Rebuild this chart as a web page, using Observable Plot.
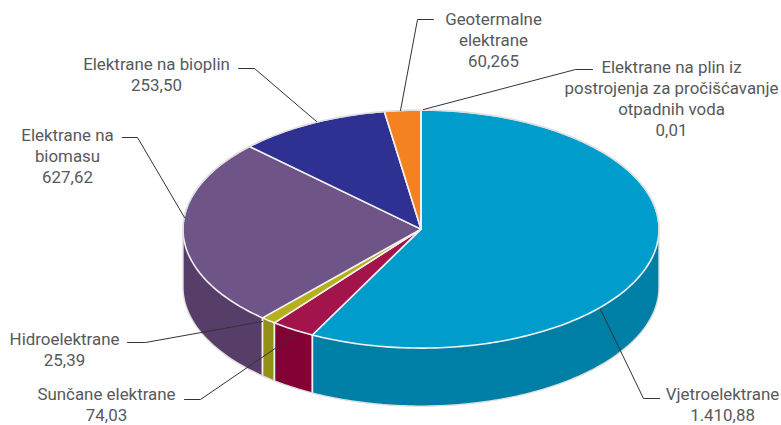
<!DOCTYPE html>
<html>
<head>
<meta charset="utf-8">
<script src="https://cdn.jsdelivr.net/npm/d3@7"></script>
<script src="https://cdn.jsdelivr.net/npm/@observablehq/plot@0.6"></script>
<style>
  html, body { margin: 0; padding: 0; background: #fff; }
  svg { display: block; }
</style>
</head>
<body>
<div id="chart"></div>
<script>
// Power plant categories, in clockwise order from twelve o'clock
const categories = [
  "Vjetroelektrane", "Sunčane elektrane", "Hidroelektrane", "Elektrane na biomasu",
  "Elektrane na bioplin", "Geotermalne elektrane", "Elektrane na plin iz postrojenja za pročišćavanje otpadnih voda"
];
const values = [1410.88, 74.03, 25.39, 627.62, 253.5, 60.265, 0.01];
const valueLabels = ["1.410,88", "74,03", "25,39", "627,62", "253,50", "60,265", "0,01"];
const nameLines = [
  "Vjetroelektrane", "Sunčane elektrane", "Hidroelektrane", "Elektrane na\nbiomasu",
  "Elektrane na bioplin", "Geotermalne\nelektrane", "Elektrane na plin iz\npostrojenja za pročišćavanje\notpadnih voda"
];
const topColors = ["#009dcc", "#a3134c", "#b5b01b", "#6f5587", "#2e3092", "#f58220", "#009dcc"];
const wallColors = ["#007fa6", "#830034", "#948f17", "#563e69", "#232570", "#c4681a", "#007fa6"];

// Pie geometry on the page
const cx = 420.5, cy = 228.6, rx = 238, ry = 119, depth = 58;

// Label placement: text anchor and the three-point leader running to the slice
const labelX = [722, 106, 64, 67, 156, 493, 671];
const labelY = [385, 385, 330, 126, 55, 10, 58];
const leaders = [
  [[659, 398], [643, 398], [600, 309]],
  [[184, 399], [200, 399], [298, 332]],
  [[127, 342], [145, 342], [262, 321]],
  [[122, 137], [137, 137], [184, 217]],
  [[238, 68], [254, 68], [316, 121]],
  [[433, 19], [417, 19], [400, 110]],
  [[592, 69], [575, 69], [423, 109]]
];

const rad = (deg) => (deg * Math.PI) / 180;
const px = (t) => cx + rx * Math.sin(rad(t));
const py = (t, drop = 0) => cy - ry * Math.cos(rad(t)) + drop;
const arc = (t0, t1, drop = 0) => {
  const n = Math.max(2, Math.ceil(Math.abs(t1 - t0)) + 1);
  return d3.range(n).map((i) => {
    const t = t0 + ((t1 - t0) * i) / (n - 1);
    return [px(t), py(t, drop)];
  });
};

// Cumulative start and end angle of each slice, from the values themselves
const total = d3.sum(values);
let running = 0;
const slices = values.map((v, i) => {
  const t0 = (running / total) * 360;
  running += v;
  return {i, t0, t1: (running / total) * 360};
});

// Upper face of each slice
const topRows = slices.flatMap(({i, t0, t1}) => {
  const ring = [[cx, cy], ...arc(t0, t1), [cx, cy]];
  return ring.map(([x, y]) => ({x, y, key: categories[i], fill: topColors[i]}));
});

// Front wall: only the part of a slice facing the viewer, between 90° and 270°
const wallRows = slices.flatMap(({i, t0, t1}) => {
  const a = Math.max(t0, 90), b = Math.min(t1, 270);
  if (a >= b) return [];
  const ring = [...arc(a, b), ...arc(b, a, depth)];
  ring.push(ring[0]);
  return ring.map(([x, y]) => ({x, y, key: categories[i], fill: wallColors[i]}));
});

// White seams between neighbouring walls
const seams = slices
  .map((s) => s.t1)
  .filter((t) => t > 90 && t < 270)
  .map((t) => ({x1: px(t), y1: py(t), x2: px(t), y2: py(t, depth)}));

// Pale outline around the whole solid
const outline = [...arc(-90, 90), ...arc(90, 270, depth), [px(-90), py(-90)]]
  .map(([x, y]) => ({x, y}));

const leaderRows = leaders.flatMap((pts, i) => pts.map(([x, y]) => ({x, y, key: categories[i]})));
const labels = categories.map((c, i) => ({
  x: labelX[i], y: labelY[i], text: nameLines[i] + "\n" + valueLabels[i]
}));

const chart = Plot.plot({
  width: 781,
  height: 425,
  margin: 0,
  style: {background: "#fff"},
  x: {domain: [0, 781], range: [0, 781], axis: null},
  y: {domain: [425, 0], range: [425, 0], axis: null},
  color: {type: "identity"},
  marks: [
    Plot.line(wallRows, {x: "x", y: "y", z: "key", fill: "fill", stroke: null}),
    Plot.link(seams, {x1: "x1", y1: "y1", x2: "x2", y2: "y2", stroke: "#f2f2f2", strokeWidth: 1.8}),
    Plot.line(topRows, {x: "x", y: "y", z: "key", fill: "fill", stroke: "#f2f2f2", strokeWidth: 1.6, strokeLinejoin: "round"}),
    Plot.line(outline, {x: "x", y: "y", stroke: "#dedede", strokeWidth: 1.4}),
    Plot.line(leaderRows, {x: "x", y: "y", z: "key", stroke: "#333", strokeWidth: 1}),
    Plot.text(labels, {
      x: "x", y: "y", text: "text",
      lineAnchor: "top", textAnchor: "middle", lineHeight: 1.23,
      fontFamily: "Roboto", fontSize: 16.9, fill: "#58595b"
    })
  ]
});
document.getElementById("chart").append(chart);
</script>
</body>
</html>
